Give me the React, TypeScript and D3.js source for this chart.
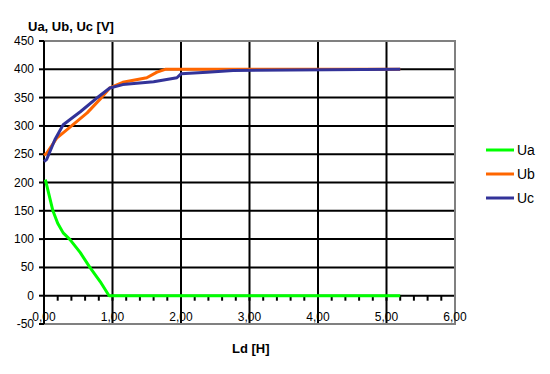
import React, { useEffect, useRef } from 'react';
import * as d3 from 'd3';

const uaX = [0.02, 0.13, 0.2, 0.28, 0.38, 0.53, 0.67, 0.82, 0.95, 5.2];
const uaY = [205, 150, 128, 111, 99, 76, 50, 25, 0, 0];

const ubX = [0.0, 0.04, 0.19, 0.38, 0.63, 0.84, 0.96, 1.15, 1.5, 1.65, 1.77, 2.8, 5.2];
const ubY = [248, 252, 279, 298, 323, 350, 367, 377, 385, 395, 400, 400, 400];

const ucX = [0.0, 0.04, 0.16, 0.28, 0.53, 0.8, 0.96, 1.15, 1.6, 1.94, 2.0, 2.38, 2.76, 5.2];
const ucY = [237, 241, 276, 302, 325, 352, 367, 373, 378, 385, 392, 395, 398, 400];

const seriesNames = ['Ua', 'Ub', 'Uc'];
const seriesColors = ['#00ff00', '#ff6600', '#333399'];
const yTicks = [-50, 0, 50, 100, 150, 200, 250, 300, 350, 400, 450];
const xTicks = [0, 1, 2, 3, 4, 5, 6];

const App = () => {
  const svgRef = useRef(null);

  useEffect(() => {
    const svg = d3.select(svgRef.current);
    svg.selectAll('*').remove();

    const left = 44, right = 455, top = 41, bottom = 324;
    const x = d3.scaleLinear().domain([0, 6]).range([left, right]);
    const y = d3.scaleLinear().domain([-50, 450]).range([bottom, top]);
    const font = 'Liberation Sans, Arial, sans-serif';

    // grid
    const grid = svg.append('g');
    grid.selectAll('.hg')
      .data(yTicks.filter((d) => d > -50 && d < 450))
      .enter()
      .append('line')
      .attr('x1', left).attr('x2', right)
      .attr('y1', (d) => y(d)).attr('y2', (d) => y(d))
      .attr('stroke', '#000').attr('stroke-width', 2);
    grid.selectAll('.vg')
      .data(xTicks.filter((d) => d > 0 && d < 6))
      .enter()
      .append('line')
      .attr('x1', (d) => x(d)).attr('x2', (d) => x(d))
      .attr('y1', top).attr('y2', bottom)
      .attr('stroke', '#000').attr('stroke-width', 2);

    // border (gray top/right/bottom)
    svg.append('path')
      .attr('d', `M${left},${top}H${right}V${bottom}H${left}`)
      .attr('fill', 'none').attr('stroke', '#808080').attr('stroke-width', 2);

    // y axis line + ticks
    svg.append('line')
      .attr('x1', left).attr('x2', left).attr('y1', top).attr('y2', bottom)
      .attr('stroke', '#000').attr('stroke-width', 2);
    svg.selectAll('.yt')
      .data(yTicks)
      .enter()
      .append('line')
      .attr('x1', left - 5).attr('x2', left)
      .attr('y1', (d) => y(d)).attr('y2', (d) => y(d))
      .attr('stroke', '#000').attr('stroke-width', 2);
    svg.selectAll('.yl')
      .data(yTicks)
      .enter()
      .append('text')
      .attr('x', left - 10)
      .attr('y', (d) => y(d) + 4)
      .attr('text-anchor', 'end')
      .attr('font-family', font).attr('font-size', 12)
      .text((d) => d);

    // x minor ticks on 0 line
    const minor = d3.range(0, 30).map((i) => i * 0.2).filter((d) => d > 0);
    svg.selectAll('.xt')
      .data(minor)
      .enter()
      .append('line')
      .attr('x1', (d) => x(d)).attr('x2', (d) => x(d))
      .attr('y1', y(0)).attr('y2', y(0) + 5)
      .attr('stroke', '#000').attr('stroke-width', 2);
    svg.selectAll('.xl')
      .data(xTicks)
      .enter()
      .append('text')
      .attr('x', (d) => x(d))
      .attr('y', bottom - 3)
      .attr('text-anchor', 'middle')
      .attr('font-family', font).attr('font-size', 12)
      .text((d) => d3.format('.2f')(d).replace('.', ','));

    // series
    const series = [
      uaX.map((v, i) => [v, uaY[i]]),
      ubX.map((v, i) => [v, ubY[i]]),
      ucX.map((v, i) => [v, ucY[i]]),
    ];
    const line = d3.line().x((d) => x(d[0])).y((d) => y(d[1]));
    series.forEach((s, i) => {
      svg.append('path')
        .datum(s)
        .attr('d', line)
        .attr('fill', 'none')
        .attr('stroke', seriesColors[i])
        .attr('stroke-width', 3)
        .attr('stroke-linejoin', 'round');
    });

    // legend
    seriesNames.forEach((n, i) => {
      const ly = 150 + i * 24;
      svg.append('line')
        .attr('x1', 486).attr('x2', 514).attr('y1', ly).attr('y2', ly)
        .attr('stroke', seriesColors[i]).attr('stroke-width', 3);
      svg.append('text')
        .attr('x', 517).attr('y', ly + 5)
        .attr('font-family', font).attr('font-size', 14)
        .text(n);
    });

    // titles
    svg.append('text')
      .attr('x', 28).attr('y', 31)
      .attr('font-family', font).attr('font-size', 13).attr('font-weight', 'bold')
      .text('Ua, Ub, Uc [V]');
    svg.append('text')
      .attr('x', 232).attr('y', 353)
      .attr('font-family', font).attr('font-size', 13).attr('font-weight', 'bold')
      .text('Ld [H]');
  }, []);

  return (
    <svg ref={svgRef} width={550} height={374} style={{ position: 'absolute', left: 0, top: 0 }}></svg>
  );
};

export default App;
